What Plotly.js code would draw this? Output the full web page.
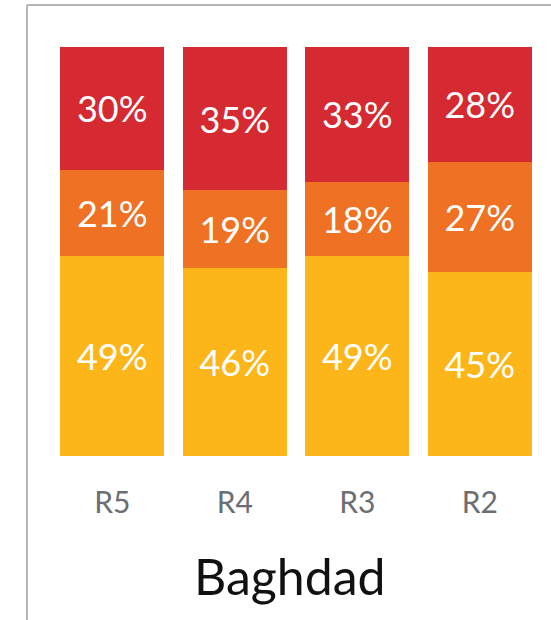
<!DOCTYPE html>
<html><head><meta charset="utf-8">
<script src="https://cdn.plot.ly/plotly-3.0.1.min.js"></script>
<style>html,body{margin:0;padding:0;background:#fff;}#chart{width:551px;height:620px;}</style>
</head><body><div id="chart"></div>
<script>
const categories = ["R5", "R4", "R3", "R2"];
const yellowVals = [49, 46, 49, 45];
const orangeVals = [21, 19, 18, 27];
const redVals = [30, 35, 33, 28];
const title = "Baghdad";

const font = "Lato, 'Open Sans', sans-serif";
function series(vals, color) {
  return {
    type: "bar", x: categories, y: vals,
    marker: {color: color, line: {width: 0}},
    text: vals.map(v => v + "%"),
    textposition: "inside", insidetextanchor: "middle",
    textangle: 0,
    insidetextfont: {family: font, size: 36, color: "#ffffff"},
    hoverinfo: "none", showlegend: false
  };
}
const data = [
  series(yellowVals, "#fdb61a"),
  series(orangeVals, "#ee7124"),
  series(redVals, "#d52a31")
];
const layout = {
  width: 551, height: 620,
  margin: {l: 51, r: 10, t: 47, b: 164},
  barmode: "stack", bargap: 0.152,
  paper_bgcolor: "#fff", plot_bgcolor: "#fff",
  uniformtext: {mode: false},
  xaxis: {
    type: "category", range: [-0.5, 3.5], fixedrange: true,
    showgrid: false, zeroline: false, showline: false, ticks: "",
    ticklabelstandoff: 26,
    tickfont: {family: font, size: 30, color: "#6b6e72"}
  },
  yaxis: {range: [0, 100], visible: false, fixedrange: true},
  title: {
    text: title, font: {family: font, size: 50, color: "#111111"},
    x: 0.526, xref: "container", xanchor: "center",
    y: 0.069, yref: "container", yanchor: "middle"
  },
  shapes: [
    {type: "line", xref: "paper", yref: "paper", x0: -0.049, x1: -0.049, y0: -0.45, y1: 1.1027,
     line: {color: "#b5b5b5", width: 2}},
    {type: "line", xref: "paper", yref: "paper", x0: -0.049, x1: 1.05, y0: 1.1027, y1: 1.1027,
     line: {color: "#b5b5b5", width: 2}}
  ]
};
Plotly.newPlot("chart", data, layout, {displayModeBar: false, staticPlot: true});
</script></body></html>
